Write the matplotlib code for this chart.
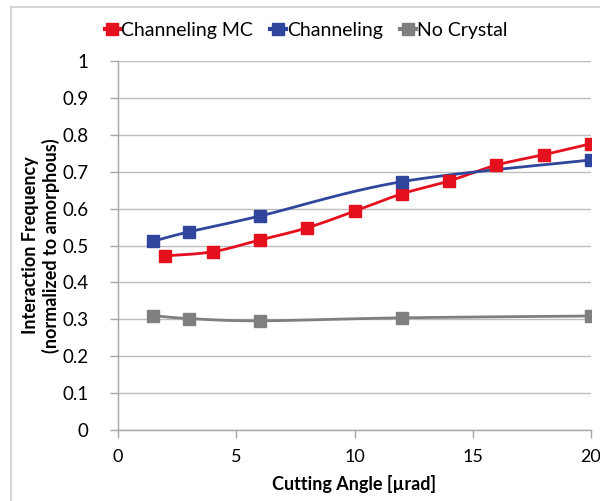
import numpy as np
import matplotlib
matplotlib.use('Agg')
import matplotlib.pyplot as plt
from matplotlib.lines import Line2D

plt.rcParams['font.family'] = ['Lato', 'DejaVu Sans']

# Interaction frequency vs cutting angle
mc_angle = [2, 4, 6, 8, 10, 12, 14, 16, 18, 20]
mc_freq = [0.472, 0.483, 0.515, 0.548, 0.593, 0.640, 0.675, 0.718, 0.746, 0.776]

ch_angle = [1.5, 3, 6, 12, 20]
ch_freq = [0.512, 0.537, 0.580, 0.673, 0.732]

nc_angle = [1.5, 3, 6, 12, 20]
nc_freq = [0.310, 0.302, 0.296, 0.304, 0.309]

x_ticks = [0, 5, 10, 15, 20]
y_ticks = [0, 0.1, 0.2, 0.3, 0.4, 0.5, 0.6, 0.7, 0.8, 0.9, 1]
y_tick_labels = ['0', '0.1', '0.2', '0.3', '0.4', '0.5', '0.6', '0.7', '0.8', '0.9', '1']


def smooth(xs, ys, n=30):
    # Excel-style smoothed line: cubic Bezier with Catmull-Rom control points
    p = np.column_stack([xs, ys]).astype(float)
    pts = [p[0]]
    for i in range(len(p) - 1):
        p0 = p[i - 1] if i > 0 else p[i]
        p1, p2 = p[i], p[i + 1]
        p3 = p[i + 2] if i + 2 < len(p) else p[i + 1]
        c1 = p1 + (p2 - p0) / 6
        c2 = p2 - (p3 - p1) / 6
        t = np.linspace(0, 1, n)[1:, None]
        seg = ((1 - t) ** 3) * p1 + 3 * ((1 - t) ** 2) * t * c1 + 3 * (1 - t) * t ** 2 * c2 + t ** 3 * p2
        pts.extend(seg)
    pts = np.array(pts)
    return pts[:, 0], pts[:, 1]


fig = plt.figure(figsize=(6, 5.01), dpi=100)
ax = fig.add_axes([0.1967, 0.1417, 0.7883, 0.7365])

series = [
    (mc_angle, mc_freq, '#E5101E', 'Channeling MC'),
    (ch_angle, ch_freq, '#2F469C', 'Channeling'),
    (nc_angle, nc_freq, '#7F7F7F', 'No Crystal'),
]
handles = []
for xs, ys, col, name in series:
    sx, sy = smooth(xs, ys)
    ax.plot(sx, sy, color=col, lw=2.0, zorder=3, solid_capstyle='round')
    ax.plot(xs, ys, ls='none', marker='s', ms=9, color=col, zorder=4)
    handles.append(Line2D([], [], color=col, lw=3, marker='s', ms=8, label=name))

ax.set_xlim(0, 20)
ax.set_ylim(0, 1)
ax.set_xticks(x_ticks)
ax.set_yticks(y_ticks)
ax.set_yticklabels(y_tick_labels)
ax.grid(axis='y', color='#BDBDBD', lw=1)
ax.set_axisbelow(True)

for s in ['top', 'right']:
    ax.spines[s].set_visible(False)
for s in ['left', 'bottom']:
    ax.spines[s].set_color('#A6A6A6')
    ax.spines[s].set_linewidth(1)
ax.tick_params(colors='#A6A6A6', labelcolor='black', length=6, width=1)
ax.tick_params(axis='y', pad=15, labelsize=13.5)
ax.tick_params(axis='x', pad=8, labelsize=13)

ax.set_xlabel('Cutting Angle [µrad]', fontsize=13, fontweight='bold', labelpad=7)
ax.set_ylabel('Interaction Frequency\n(normalized to amorphous)', fontsize=13,
              fontweight='bold', labelpad=2, linespacing=1.2)

fig.legend(handles=handles, loc='center', bbox_to_anchor=(0.51, 0.94), ncol=3,
           frameon=False, fontsize=14, handlelength=0.8, handletextpad=0.05,
           columnspacing=0.9)

# chart area border
fig.add_artist(Line2D([0.018, 0.018], [0, 0.986], color='#CFCFCF', lw=1.2))
fig.add_artist(Line2D([0.018, 1], [0.986, 0.986], color='#CFCFCF', lw=1.2))

fig.savefig('out.png', dpi=100)
